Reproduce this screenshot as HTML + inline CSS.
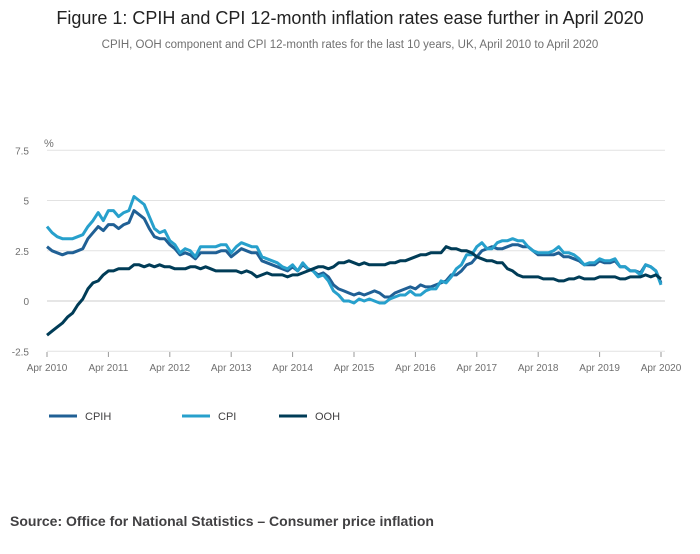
<!DOCTYPE html>
<html><head><meta charset="utf-8"><style>
body{margin:0;background:#fff;font-family:"Liberation Sans",sans-serif;}
svg text{font-family:"Liberation Sans",sans-serif;}
</style></head><body>
<svg id="chart" width="700" height="549">
<text x="350" y="24" text-anchor="middle" font-size="18" fill="#222">Figure 1: CPIH and CPI 12-month inflation rates ease further in April 2020</text>
<text x="350" y="48" text-anchor="middle" font-size="11.5" fill="#707070">CPIH, OOH component and CPI 12-month rates for the last 10 years, UK, April 2010 to April 2020</text>
<text x="44" y="147" font-size="11" fill="#707070">%</text>
<g id="grid"></g><g id="xaxis"></g><g id="lines"></g>
<g>
<line x1="49" y1="416" x2="77" y2="416" stroke="#206095" stroke-width="3"/>
<text x="85" y="420" font-size="11" fill="#414042">CPIH</text>
<line x1="182" y1="416" x2="210" y2="416" stroke="#27a0cc" stroke-width="3"/>
<text x="218" y="420" font-size="11" fill="#414042">CPI</text>
<line x1="279" y1="416" x2="307" y2="416" stroke="#003c57" stroke-width="3"/>
<text x="315" y="420" font-size="11" fill="#414042">OOH</text>
</g>
<text x="10" y="526" font-size="14" font-weight="bold" fill="#414042">Source: Office for National Statistics – Consumer price inflation</text>
</svg>
<script>
const yTicks=[7.5,5,2.5,0,-2.5];
const yTickLabels=["7.5","5","2.5","0","-2.5"];
const xTickLabels=["Apr 2010","Apr 2011","Apr 2012","Apr 2013","Apr 2014","Apr 2015","Apr 2016","Apr 2017","Apr 2018","Apr 2019","Apr 2020"];
const cpih=[2.7,2.5,2.4,2.3,2.4,2.4,2.5,2.6,3.1,
3.4,3.7,3.5,3.8,3.8,3.6,3.8,3.9,4.5,4.3,4.1,3.6,
3.2,3.1,3.1,2.8,2.6,2.3,2.4,2.3,2.1,2.4,2.4,2.4,
2.4,2.5,2.5,2.2,2.4,2.6,2.5,2.4,2.4,2.0,1.9,1.8,
1.7,1.6,1.5,1.7,1.5,1.8,1.6,1.5,1.3,1.4,1.2,0.8,
0.6,0.5,0.4,0.3,0.4,0.3,0.4,0.5,0.4,0.2,0.2,0.4,
0.5,0.6,0.7,0.6,0.8,0.7,0.7,0.8,0.9,1.0,1.3,1.3,
1.5,1.8,1.9,2.2,2.5,2.6,2.7,2.6,2.6,2.7,2.8,2.8,
2.7,2.7,2.5,2.3,2.3,2.3,2.3,2.4,2.2,2.2,2.1,2.0,
1.8,1.8,1.8,2.0,1.9,1.9,2.0,1.7,1.7,1.5,1.5,1.4,
1.8,1.7,1.5,0.9];
const cpi=[3.7,3.4,3.2,3.1,3.1,3.1,3.2,3.3,3.7,
4.0,4.4,4.0,4.5,4.5,4.2,4.4,4.5,5.2,5.0,4.8,4.2,
3.6,3.4,3.5,3.0,2.8,2.4,2.6,2.5,2.2,2.7,2.7,2.7,
2.7,2.8,2.8,2.4,2.7,2.9,2.8,2.7,2.7,2.2,2.1,2.0,
1.9,1.7,1.6,1.8,1.5,1.9,1.6,1.5,1.2,1.3,1.0,0.5,
0.3,0.0,0.0,-0.1,0.1,0.0,0.1,0.0,-0.1,-0.1,0.1,0.2,
0.3,0.3,0.5,0.3,0.3,0.5,0.6,0.6,1.0,0.9,1.2,1.6,
1.8,2.3,2.3,2.7,2.9,2.6,2.6,2.9,3.0,3.0,3.1,3.0,
3.0,2.7,2.5,2.4,2.4,2.4,2.5,2.7,2.4,2.4,2.3,2.1,
1.8,1.9,1.9,2.1,2.0,2.0,2.1,1.7,1.7,1.5,1.5,1.3,
1.8,1.7,1.5,0.8];
const ooh=[-1.7,-1.5,-1.3,-1.1,-0.8,-0.6,-0.2,0.1,0.6,
0.9,1.0,1.3,1.5,1.5,1.6,1.6,1.6,1.8,1.8,1.7,1.8,
1.7,1.8,1.7,1.7,1.6,1.6,1.6,1.7,1.7,1.6,1.7,1.6,
1.5,1.5,1.5,1.5,1.5,1.4,1.5,1.4,1.2,1.3,1.4,1.3,
1.3,1.3,1.2,1.3,1.3,1.4,1.5,1.6,1.7,1.7,1.6,1.7,
1.9,1.9,2.0,1.9,1.8,1.9,1.8,1.8,1.8,1.8,1.9,1.9,
2.0,2.0,2.1,2.2,2.3,2.3,2.4,2.4,2.4,2.7,2.6,2.6,
2.5,2.5,2.4,2.2,2.1,2.0,2.0,1.9,1.9,1.6,1.5,1.3,
1.2,1.2,1.2,1.2,1.1,1.1,1.1,1.0,1.0,1.1,1.1,1.2,
1.1,1.1,1.1,1.2,1.2,1.2,1.2,1.1,1.1,1.2,1.2,1.2,
1.3,1.2,1.3,1.1];
const NS="http://www.w3.org/2000/svg";
const x0=47,x1=661,nPts=cpi.length;
const xs=i=>x0+(x1-x0)*i/(nPts-1);
const ys=v=>301-v*20.1;
const grid=document.getElementById('grid'),xa=document.getElementById('xaxis'),lg=document.getElementById('lines');
yTicks.forEach((t,k)=>{
 const l=document.createElementNS(NS,'line');
 l.setAttribute('x1',x0);l.setAttribute('x2',665);l.setAttribute('y1',ys(t));l.setAttribute('y2',ys(t));
 l.setAttribute('stroke',t===0?'#ccc':'#e2e2e2');l.setAttribute('stroke-width',1);
 
 
 grid.appendChild(l);
 const tx=document.createElementNS(NS,'text');
 tx.setAttribute('x',29);tx.setAttribute('y',ys(t)+4);tx.setAttribute('text-anchor','end');
 tx.setAttribute('font-size','10');tx.setAttribute('fill','#707070');tx.textContent=yTickLabels[k];
 
 
 grid.appendChild(tx);
});
xTickLabels.forEach((lab,k)=>{
 const x=xs(k*12);
 const t=document.createElementNS(NS,'line');
 t.setAttribute('x1',x);t.setAttribute('x2',x);t.setAttribute('y1',352);t.setAttribute('y2',357);
 t.setAttribute('stroke','#999');
 
 
 xa.appendChild(t);
 const tx=document.createElementNS(NS,'text');
 tx.setAttribute('x',x);tx.setAttribute('y',371);tx.setAttribute('text-anchor','middle');
 tx.setAttribute('font-size','10');tx.setAttribute('fill','#707070');tx.textContent=lab;
 
 
 xa.appendChild(tx);
});
[[cpih,'#206095','cpih-line'],[cpi,'#27a0cc','cpi-line'],[ooh,'#003c57','ooh-line']].forEach(s=>{
 const p=document.createElementNS(NS,'polyline');
 p.setAttribute('points',s[0].map((v,i)=>xs(i).toFixed(1)+','+ys(v).toFixed(1)).join(' '));
 p.setAttribute('fill','none');p.setAttribute('stroke',s[1]);p.setAttribute('stroke-width','3');
 p.setAttribute('stroke-linejoin','round');
 
 
 lg.appendChild(p);
});
</script>
</body></html>
